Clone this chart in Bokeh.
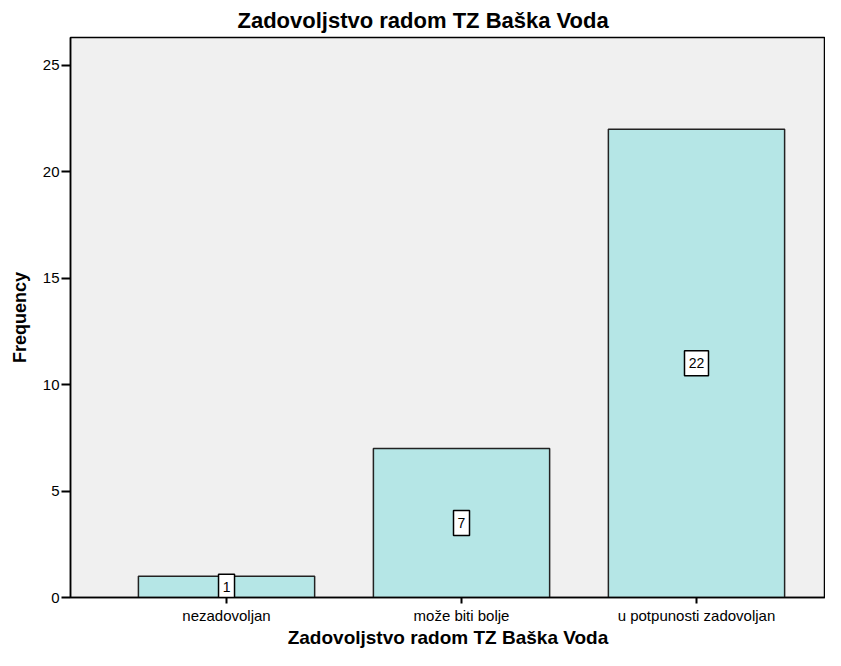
from bokeh.plotting import figure
from bokeh.models import Range1d, FixedTicker
from bokeh.core.properties import value
from bokeh.embed import file_html
from bokeh.resources import INLINE

categories = ["nezadovoljan", "može biti bolje", "u potpunosti zadovoljan"]
frequencies = [1, 7, 22]
y_ticks = [0, 5, 10, 15, 20, 25]
title_text = "Zadovoljstvo radom TZ Baška Voda"
x_label = "Zadovoljstvo radom TZ Baška Voda"
y_label = "Frequency"

FONT = "Liberation Sans"

xs = list(range(len(categories)))
mids = [f / 2 for f in frequencies]
labels = [str(f) for f in frequencies]
box_w = [8 * len(s) + 8 for s in labels]

p = figure(width=825, height=650, output_backend="svg", toolbar_location=None,
           x_range=Range1d(-0.664, 2.549), y_range=Range1d(0, 26.31),
           min_border_left=70, min_border_right=0, min_border_top=34,
           min_border_bottom=48, title=title_text)

p.background_fill_color = "#f0f0f0"
p.border_fill_color = "white"
p.outline_line_color = "black"
p.outline_line_width = 1.5
p.xgrid.visible = False
p.ygrid.visible = False

p.title.text_font = FONT
p.title.text_font_size = "22px"
p.title.text_font_style = "bold"
p.title.align = "left"
p.title.text_color = "black"
p.title.offset = 167
p.title.standoff = 10

p.vbar(x=xs, top=frequencies, width=0.75, fill_color="#b5e6e6",
       line_color="#222222", line_width=1.5)

p.rect(x=xs, y=mids, width=box_w, height=25, width_units="screen",
       height_units="screen", fill_color="white", line_color="black",
       line_width=1.5)
p.text(x=xs, y=mids, text=labels, text_align="center", text_baseline="middle",
       text_font=value(FONT), text_font_size="14px", text_color="black")

# x axis
p.xaxis.ticker = FixedTicker(ticks=xs)
p.xaxis.major_label_overrides = {i: c for i, c in enumerate(categories)}
p.xaxis.minor_tick_line_color = None
p.xaxis.major_tick_in = 0
p.xaxis.major_tick_out = 6
p.xaxis.major_tick_line_width = 2
p.xaxis.axis_line_width = 1.5
p.xaxis.major_label_standoff = 3
p.xaxis.major_label_text_font = FONT
p.xaxis.major_label_text_font_size = "15px"
p.xaxis.major_label_text_color = "black"
p.xaxis.axis_label = x_label
p.xaxis.axis_label_text_font = FONT
p.xaxis.axis_label_text_font_size = "19px"
p.xaxis.axis_label_text_font_style = "bold"
p.xaxis.axis_label_text_color = "black"
p.xaxis.axis_label_standoff = 0

# y axis
p.yaxis.ticker = FixedTicker(ticks=y_ticks)
p.yaxis.minor_tick_line_color = None
p.yaxis.major_tick_in = 0
p.yaxis.major_tick_out = 9
p.yaxis.major_tick_line_width = 2
p.yaxis.axis_line_width = 1.5
p.yaxis.major_label_standoff = 2
p.yaxis.major_label_text_font = FONT
p.yaxis.major_label_text_font_size = "15px"
p.yaxis.major_label_text_color = "black"
p.yaxis.axis_label = y_label
p.yaxis.axis_label_text_font = FONT
p.yaxis.axis_label_text_font_size = "18px"
p.yaxis.axis_label_text_font_style = "bold"
p.yaxis.axis_label_text_color = "black"
p.yaxis.axis_label_standoff = 10

open("out.html", "w").write(file_html(p, INLINE))
